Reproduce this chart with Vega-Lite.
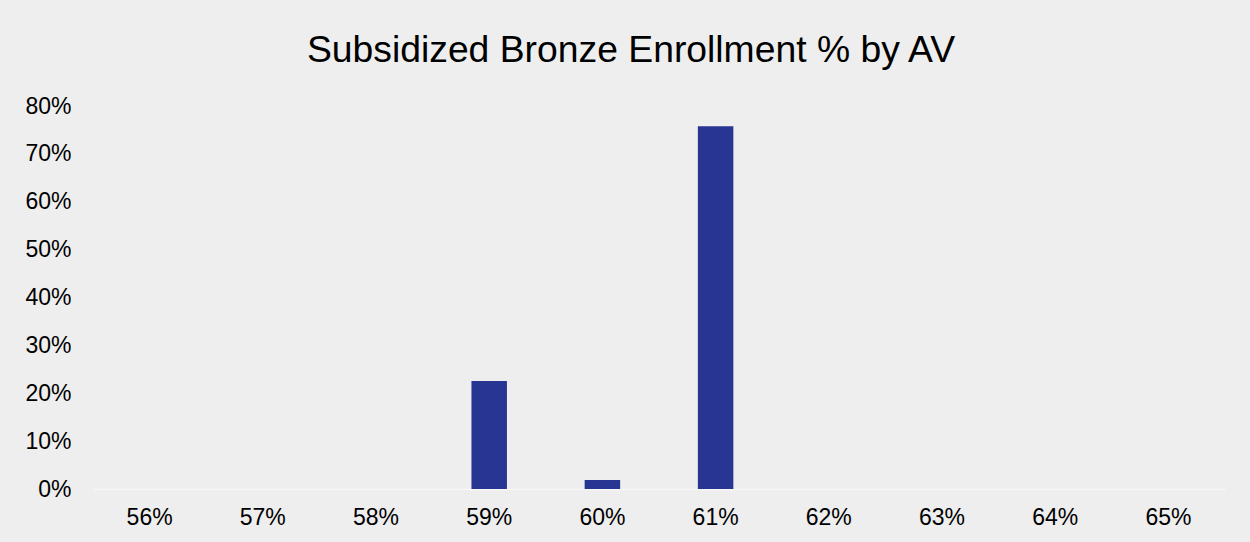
{
  "$schema": "https://vega.github.io/schema/vega-lite/v6.json",
  "autosize": "none",
  "width": 1132,
  "height": 383,
  "padding": {"left": 93, "top": 106, "right": 25, "bottom": 53},
  "background": "#EEEEEE",
  "title": {
    "text": "Subsidized Bronze Enrollment % by AV",
    "font": "Liberation Sans",
    "fontSize": 37.3,
    "fontWeight": "normal",
    "color": "#000000",
    "anchor": "middle",
    "dx": -28,
    "offset": 25
  },
  "data": {
    "values": [
      {"av": "56%", "pct": 0},
      {"av": "57%", "pct": 0},
      {"av": "58%", "pct": 0},
      {"av": "59%", "pct": 0.2255},
      {"av": "60%", "pct": 0.0188},
      {"av": "61%", "pct": 0.7575},
      {"av": "62%", "pct": 0},
      {"av": "63%", "pct": 0},
      {"av": "64%", "pct": 0},
      {"av": "65%", "pct": 0}
    ]
  },
  "mark": {"type": "bar", "color": "#283593", "size": 35.5},
  "encoding": {
    "x": {
      "field": "av",
      "type": "nominal",
      "sort": null,
      "title": null,
      "scale": {"paddingInner": 0.2, "paddingOuter": 0.1},
      "axis": {
        "labelAngle": 0,
        "labelFont": "Liberation Sans",
        "labelFontSize": 23,
        "labelColor": "#000000",
        "labelPadding": 17,
        "ticks": false,
        "tickSize": 0,
        "domain": true,
        "domainColor": "#F7F7F7",
        "domainWidth": 1.5,
        "grid": false
      }
    },
    "y": {
      "field": "pct",
      "type": "quantitative",
      "title": null,
      "scale": {"domain": [0, 0.8], "nice": false},
      "axis": {
        "values": [0, 0.1, 0.2, 0.3, 0.4, 0.5, 0.6, 0.7, 0.8],
        "format": ".0%",
        "labelFont": "Liberation Sans",
        "labelFontSize": 23,
        "labelColor": "#000000",
        "labelPadding": 22,
        "ticks": false,
        "tickSize": 0,
        "domain": false,
        "grid": false
      }
    }
  },
  "config": {
    "view": {"stroke": null},
    "scale": {"bandPaddingInner": 0.2}
  }
}
